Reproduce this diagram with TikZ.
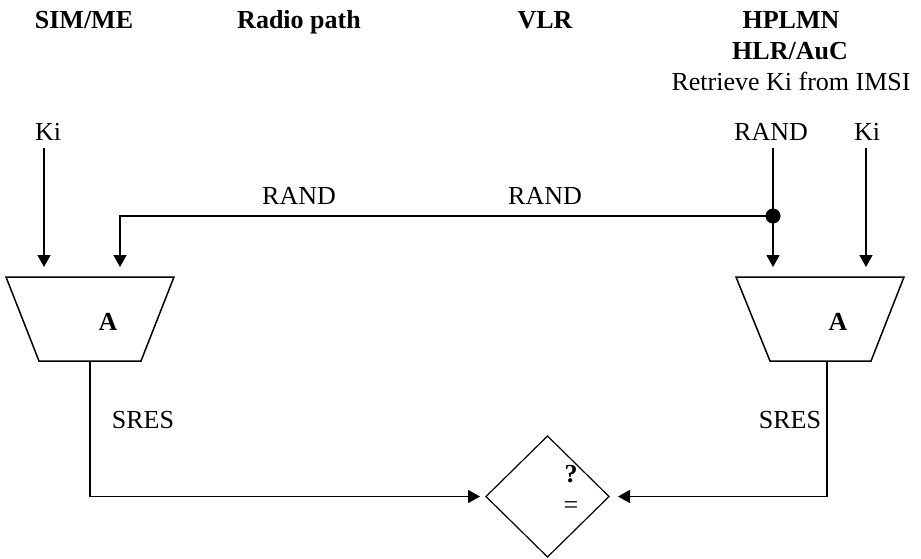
\documentclass[tikz,border=0pt]{standalone}
\usepackage{fontspec}
\setmainfont{Liberation Serif}
\usetikzlibrary{arrows.meta,shapes.geometric}
\begin{document}
\begin{tikzpicture}[x=1pt,y=-1pt,
  txt/.style={font=\fontsize{26}{31}\selectfont, inner sep=0pt, anchor=base},
  hdr/.style={font=\fontsize{26}{31}\selectfont\bfseries, inner sep=0pt, anchor=base},
  conn/.style={line width=1.5pt},
  arr/.style={conn, -{Triangle[width=13pt,length=12pt]}},
  block/.style={line width=1.5pt, line join=miter}]
\useasboundingbox (0,0) rectangle (921,558);

% headers
\node[hdr] (hsim) at (84,28) {SIM/ME};
\node[hdr] (hradio) at (299,28) {Radio path};
\node[hdr] (hvlr) at (545,28) {VLR};
\node[hdr] (hhplmn) at (791,28) {HPLMN};
\node[hdr] (hhlr) at (790,59) {HLR/AuC};
\node[txt] (retr) at (791,90) {Retrieve Ki from IMSI};

% input labels
\node[txt] (kiL) at (48,140) {Ki};
\node[txt] (randR) at (771,140) {RAND};
\node[txt] (kiR) at (867,140) {Ki};
\node[txt] (rand1) at (299,204) {RAND};
\node[txt] (rand2) at (545,204) {RAND};

% trapezoids (algorithm A)
\draw[block] (6,277) -- (174,277) -- (141,361) -- (39,361) -- cycle;
\draw[block] (736,277) -- (904,277) -- (871,361) -- (770,361) -- cycle;
\node[hdr] (aL) at (108,330) {A};
\node[hdr] (aR) at (838,330) {A};

% named points
\coordinate (kiL-s) at (44,148);
\coordinate (L-in1) at (44,267);
\coordinate (L-in2) at (120,267);
\coordinate (randR-s) at (773,148);
\coordinate (R-in1) at (773,267);
\coordinate (kiR-s) at (866,148);
\coordinate (R-in2) at (866,267);
\coordinate (L-out) at (90,361);
\coordinate (R-out) at (827,361);

% junction dot
\node[circle, fill, inner sep=0pt, minimum size=15pt] (dot) at (773,216) {};

% comparison diamond
\node[draw, diamond, line width=1.2pt, minimum width=123pt, minimum height=121pt,
      inner sep=0pt, outer sep=0pt] (cmp) at (547.5,496.5) {};
\node[hdr] (q) at (571,482) {?};
\node[txt] (eq) at (571,513) {=};

% SRES labels
\node[txt] (sresL) at (143,428) {SRES};
\node[txt] (sresR) at (790,428) {SRES};

% connectors
\draw[arr] (kiL-s) -- (L-in1);
\draw[arr] (randR-s) -- (R-in1);
\draw[arr] (kiR-s) -- (R-in2);
\draw[arr] (dot.center) -| (L-in2);
\draw[arr, shorten >=6pt] (L-out) |- (cmp.west);
\draw[arr, shorten >=9pt] (R-out) |- (cmp.east);
\end{tikzpicture}
\end{document}
